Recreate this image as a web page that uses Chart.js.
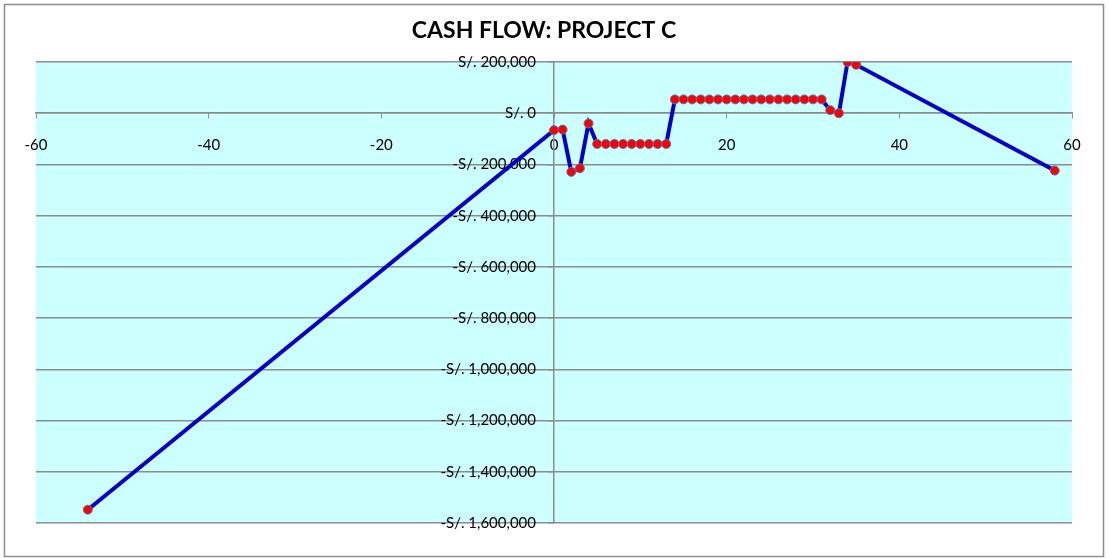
<!DOCTYPE html>
<html>
<head>
<meta charset="utf-8">
<title>Cash Flow: Project C</title>
<script src="https://cdn.jsdelivr.net/npm/chart.js@4"></script>
<style>
    html, body { margin: 0; padding: 0; background: #fff; }
    #wrap { position: relative; width: 1109px; height: 558px; }
</style>
</head>
<body>
<div id="wrap"><canvas id="cashChart" width="1109" height="558"></canvas></div>
<script>
// Periods (x) and cash flow per period (y)
const periods = [-54, 0, 1, 2, 3, 4, 5, 6, 7, 8, 9, 10, 11, 12, 13,
    14, 15, 16, 17, 18, 19, 20, 21, 22, 23, 24, 25, 26, 27, 28, 29, 30, 31,
    32, 33, 34, 35, 58];
const cashFlow = [-1548000, -66000, -64000, -229000, -215000, -40000,
    -120000, -120000, -120000, -120000, -120000, -120000, -120000, -120000, -120000,
    54000, 54000, 54000, 54000, 54000, 54000, 54000, 54000, 54000,
    54000, 54000, 54000, 54000, 54000, 54000, 54000, 54000, 54000,
    12000, 0, 200000, 189000, -224000];

const chartTitle = 'CASH FLOW: PROJECT C';
const xTicks = { min: -60, max: 60, step: 20 };
const yTicks = { min: -1600000, max: 200000, step: 200000 };

const colors = {
    line: '#0000CC',
    point: '#FF0000',
    pointBorder: '#4A7EBB',
    plotBg: '#CCFFFF',
    grid: '#8C8C8C',
    frame: '#8C8C8C'
};

const points = periods.map((p, i) => ({ x: p, y: cashFlow[i] }));

function formatSoles(value) {
    const s = 'S/. ' + Math.abs(value).toLocaleString('en-US');
    return value < 0 ? '-' + s : s;
}

// plot background, outer frame and title
const decorPlugin = {
    id: 'decor',
    beforeDraw(chart) {
        const { ctx, chartArea: a } = chart;
        ctx.save();
        ctx.fillStyle = colors.plotBg;
        ctx.fillRect(a.left, a.top, a.right - a.left, a.bottom - a.top);
        ctx.strokeStyle = colors.frame;
        ctx.lineWidth = 1.5;
        ctx.strokeRect(4.5, 4.5, 1099, 552);
        ctx.fillStyle = '#000';
        ctx.font = 'bold 23px Lato';
        ctx.textAlign = 'center';
        ctx.textBaseline = 'middle';
        ctx.fillText(chartTitle, 544, 31);
        ctx.restore();

        // y labels on a centred axis ignore ticks.padding, so nudge them left
        chart.scales.y.getLabelItems().forEach(item => {
            if (!item._nudged) {
                item.options.translation[0] -= 18;
                item._nudged = true;
            }
        });
    }
};

new Chart(document.getElementById('cashChart'), {
    type: 'scatter',
    data: {
        datasets: [{
            label: 'Cash flow',
            data: points,
            showLine: true,
            borderColor: colors.line,
            borderWidth: 4,
            pointRadius: 4.5,
            pointBackgroundColor: colors.point,
            pointBorderColor: colors.pointBorder,
            pointBorderWidth: 1,
            tension: 0
        }]
    },
    options: {
        responsive: false,
        animation: false,
        layout: {
            padding: { left: 36, right: 37, top: 62, bottom: 35 }
        },
        plugins: {
            legend: { display: false },
            tooltip: { enabled: false }
        },
        scales: {
            x: {
                type: 'linear',
                position: { y: 0 },
                min: xTicks.min,
                max: xTicks.max,
                ticks: {
                    stepSize: xTicks.step,
                    color: '#000',
                    font: { family: 'Lato', size: 15 },
                    padding: 18,
                    maxRotation: 0
                },
                grid: {
                    drawOnChartArea: false,
                    drawTicks: true,
                    tickLength: 5,
                    color: colors.grid
                },
                border: { color: colors.grid, width: 1.5 }
            },
            y: {
                type: 'linear',
                position: { x: 0 },
                min: yTicks.min,
                max: yTicks.max,
                ticks: {
                    stepSize: yTicks.step,
                    color: '#000',
                    font: { family: 'Lato', size: 15 },
                    callback: (value) => formatSoles(value)
                },
                grid: {
                    color: colors.grid,
                    lineWidth: 1.5,
                    tickLength: 5
                },
                border: { color: colors.grid, width: 1.5 }
            }
        }
    },
    plugins: [decorPlugin]
});
</script>
</body>
</html>
